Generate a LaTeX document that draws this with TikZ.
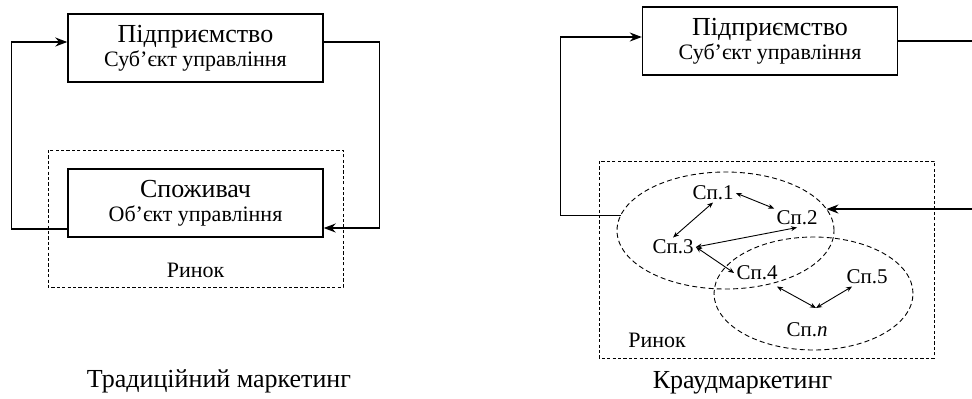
\documentclass[tikz,border=0pt]{standalone}
\usepackage{fontspec}
\setmainfont{Liberation Serif}
\usetikzlibrary{arrows.meta, shapes.geometric, positioning}
\newcommand{\bigsz}{\fontsize{13}{14}\selectfont}
\newcommand{\smallsz}{\fontsize{11}{13}\selectfont}
\newcommand{\spsz}{\fontsize{10.5}{12}\selectfont}
\tikzset{
  box/.style={draw, line width=0.7pt, minimum width=127.5pt, minimum height=34pt, align=center, inner sep=1pt},
  conn/.style={line width=0.7pt, -{Stealth[length=6pt, width=4.5pt]}},
  market/.style={line width=0.5pt, dash pattern=on 1.6pt off 1.1pt},
  grp/.style={draw, ellipse, line width=0.45pt, dash pattern=on 2.5pt off 1.6pt, inner sep=0pt, outer sep=0pt},
  sp/.style={inner sep=1pt, font=\spsz},
  link/.style={line width=0.45pt, {Stealth[length=3pt, width=2.4pt]}-{Stealth[length=3pt, width=2.4pt]}},
}

\begin{document}
\begin{tikzpicture}[x=0.5pt, y=-0.5pt]
  \clip (0,0) rectangle (972,398);
  % traditional marketing
  \begin{scope}
    \draw[market] (48,150) rectangle (343,287);
    \node[box] (firmL) at (195.5,48) {\bigsz Підприємство\\ \smallsz Суб’єкт управління};
    \node[box] (consL) at (195.5,203) {\bigsz Споживач\\ \smallsz Об’єкт управління};
    \node[font=\smallsz] (mktL) at (195.5,270) {Ринок};
    \draw[conn] ([yshift=-13pt]consL.west) -- ++(-56,0) |- ([yshift=3pt]firmL.west);
    \draw[conn] ([yshift=3pt]firmL.east) -- ++(56,0) |- ([yshift=-12.5pt]consL.east);
    \node[font=\bigsz] (capL) at (219,381) {Традиційний маркетинг};
  \end{scope}
  % crowd marketing
  \begin{scope}[xshift=270pt]
    \draw[market] (59,161) rectangle (394,358);
    \node[box] (firmR) at (230,41) {\bigsz Підприємство\\ \smallsz Суб’єкт управління};
    \node[grp, minimum width=108.5pt, minimum height=58.5pt] (grpA) at (185.5,230.5) {};
    \node[grp, minimum width=99.5pt, minimum height=56.5pt] (grpB) at (273.5,293.5) {};
    \node[sp] (s1) at (173,193) {Сп.1};
    \node[sp] (s2) at (257,218) {Сп.2};
    \node[sp] (s3) at (133,247) {Сп.3};
    \node[sp] (s4) at (217,273) {Сп.4};
    \node[sp] (s5) at (327,277) {Сп.5};
    \node[sp] (sn) at (267,330) {Сп.\textit{n}};
    \coordinate (hub) at (276,308);
    \draw[link] (s1.east) -- (s2.north west);
    \draw[link] (s1.south) -- (s3.north);
    \draw[link] (s3.east) -- (s2.south);
    \draw[link] (s3.east) -- (s4.west);
    \draw[link] ([shift={(-1.5pt,-2pt)}]s4.south east) -- (hub);
    \draw[link] (hub) -- ([xshift=4pt]s5.south west);
    \node[font=\smallsz] (mktR) at (117,340) {Ринок};
    \draw[conn] (grpA.172) -- ++(-60,0) |- ([yshift=2pt]firmR.west);
    \draw[conn] (firmR.east) -- ++(80,0) |- (grpA.12);
    \node[font=\bigsz] (capR) at (202.5,383) {Краудмаркетинг};
  \end{scope}
\end{tikzpicture}
\end{document}
